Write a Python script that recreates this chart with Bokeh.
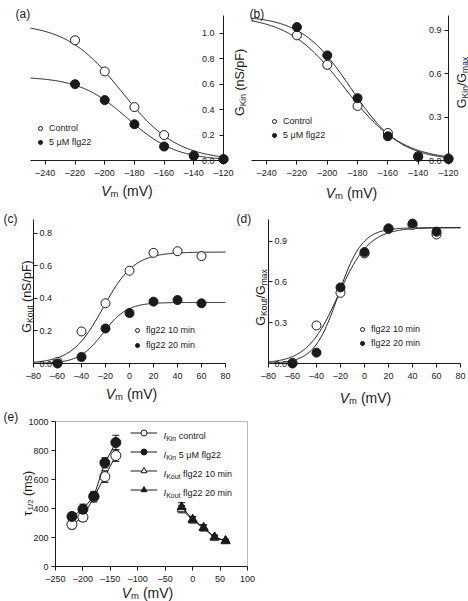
import numpy as np
from bokeh.plotting import figure
from bokeh.models import (Label, Legend, LegendItem, Range1d, ColumnDataSource, Whisker, TeeHead,
                          FixedTicker, CustomJSTickFormatter, NumeralTickFormatter, LinearAxis,
                          BoxAnnotation)
from bokeh.layouts import row, column
from bokeh.embed import file_html
from bokeh.resources import INLINE

FONT = "Liberation Sans"
INK = "#1a1a1a"

# ---------------- data ----------------
# (a)/(b) inward K+ conductance
v_kin = [-220, -200, -180, -160, -140, -120]
gkin_control = [0.945, 0.70, 0.42, 0.20, 0.04, 0.01]
gkin_flg22 = [0.60, 0.475, 0.285, 0.11, 0.035, 0.01]
gkin_norm_control = [0.863, 0.66, 0.376, 0.19, 0.03, 0.015]
gkin_norm_flg22 = [0.92, 0.725, 0.43, 0.167, 0.025, 0.01]
# Boltzmann fit parameters [Gmax, V1/2, slope]
fit_kin_control = [1.08, -188.5, 18.8]
fit_kin_flg22 = [0.66, -184.5, 16.4]

# (c)/(d) outward K+ conductance
v_kout = [-60, -40, -20, 0, 20, 40, 60]
gkout_10 = [0.01, 0.197, 0.37, 0.57, 0.68, 0.69, 0.66]
gkout_20 = [0.0, 0.04, 0.215, 0.31, 0.38, 0.39, 0.37]
gkout_norm_10 = [0.005, 0.28, 0.52, 0.81, 0.99, 1.02, 0.95]
gkout_norm_20 = [0.0, 0.08, 0.56, 0.82, 0.995, 1.03, 0.97]
fit_kout_10 = [0.685, -22.0, 13.0]
fit_kout_20 = [0.375, -22.0, 10.0]

# (e) half-activation times
v_tau_in = [-220, -200, -180, -160, -140]
tau_in_control = [290, 340, 480, 620, 765]
tau_in_control_err = [30, 30, 35, 40, 40]
tau_in_flg22 = [345, 395, 485, 715, 855]
tau_in_flg22_err = [25, 35, 30, 35, 50]
v_tau_out = [-20, 0, 20, 40, 60]
tau_out_10 = [395, 320, 265, 200, 175]
tau_out_10_err = [25, 20, 20, 15, 10]
tau_out_20 = [410, 325, 268, 202, 178]
tau_out_20_err = [30, 20, 20, 15, 10]

ticks_kin_x = [-240, -220, -200, -180, -160, -140, -120]
ticks_kout_x = [-80, -60, -40, -20, 0, 20, 40, 60, 80]
ticks_e_x = [-250, -200, -150, -100, -50, 0, 50, 100]
ticks_e_y = [0, 200, 400, 600, 800, 1000]

# ---------------- helpers ----------------
W = {' ': .278, '(': .333, ')': .333, '/': .278, '.': .278, '-': .333,
     'A': .667, 'C': .722, 'G': .778, 'I': .278, 'K': .667, 'M': .833, 'S': .667,
     'F': .611, 'V': .667, 'a': .556, 'c': .5, 'e': .556, 'f': .278, 'g': .556,
     'i': .222, 'l': .222, 'm': .833, 'n': .556, 'o': .556, 'p': .556, 'r': .333,
     's': .5, 't': .278, 'u': .556, 'x': .5, 'μ': .576, 'τ': .45}

XL, XS = 14, 9.5      # horizontal axis-title size / subscript size
YL, YS = 12.5, 8.5    # vertical axis-title size / subscript size


def tw(s, size):
    return sum(W.get(c, .556) for c in s) * size


class Panel:
    """A figure whose frame covers the whole canvas; the data area sits inside it."""

    def __init__(self, cw, ch, left, top, dw, dh, xr, yr):
        sx = dw / (xr[1] - xr[0])
        sy = dh / (yr[1] - yr[0])
        x0 = xr[0] - left / sx
        x1 = xr[1] + (cw - left - dw) / sx
        y0 = yr[0] - (ch - top - dh) / sy
        y1 = yr[1] + top / sy
        p = figure(width=cw, height=ch, x_range=Range1d(x0, x1), y_range=Range1d(y0, y1),
                   min_border=0, x_axis_location=None, y_axis_location=None,
                   output_backend="svg", toolbar_location=None)
        p.xgrid.visible = False
        p.ygrid.visible = False
        p.outline_line_color = None
        self.p = p
        self.ox = left
        self.oy = ch - top - dh
        self.dw, self.dh = dw, dh
        self.xr, self.yr = xr, yr

    def axis(self, side, ticks, fmt, fixed, tick_out=4, standoff=3):
        bounds = self.xr if side in ("below", "above") else self.yr
        ax = LinearAxis(fixed_location=fixed, bounds=bounds, ticker=FixedTicker(ticks=ticks),
                        formatter=fmt, axis_line_color=INK, major_tick_line_color=INK,
                        minor_tick_line_color=None, major_tick_in=0, major_tick_out=tick_out,
                        major_label_standoff=standoff, major_label_text_font=FONT,
                        major_label_text_font_size="9px", major_label_text_color=INK)
        self.p.add_layout(ax, side)
        return ax

    def rich(self, pieces, x, y, angle=0.0, align="center"):
        total = sum(tw(t, s) for t, s, st, sh in pieces)
        adv = -total / 2 if align == "center" else 0.0
        for t, s, st, sh in pieces:
            body = t.lstrip(" ")
            adv += tw(t[:len(t) - len(body)], s)
            if angle == 0:
                xo, yo = x + adv, y - sh
            else:
                xo, yo = x + sh, y + adv
            self.p.add_layout(Label(x=self.ox + xo, y=self.oy + yo, x_units="screen",
                                    y_units="screen", text=body, angle=angle, text_font=FONT,
                                    text_font_size=f"{s}px", text_font_style=st,
                                    text_align="left", text_baseline="alphabetic",
                                    text_color=INK))
            adv += tw(body, s)

    def pts(self, x, y, filled, marker="circle", size=9):
        return self.p.scatter(x, y, marker=marker, size=size, line_color=INK, line_width=1,
                              fill_color=INK if filled else "white")

    def curve(self, fn, prm):
        v = np.linspace(self.xr[0], self.xr[1], 240)
        self.p.line(v, fn(v, prm), line_color=INK, line_width=1)

    def marker_legend(self, items, loc, spacing):
        lg = Legend(items=[LegendItem(label=l, renderers=[r]) for l, r in items],
                    location=(self.ox + loc[0], self.oy + loc[1]), padding=0, margin=0,
                    spacing=spacing, glyph_width=10, glyph_height=12, label_height=12,
                    label_standoff=4, label_text_font=FONT, label_text_font_size="9px",
                    label_text_color=INK, border_line_color=None, background_fill_alpha=0)
        self.p.add_layout(lg)

    def vm_label(self, x_shift, y):
        self.rich([("V", XL, "italic", 0), ("m", XS, "normal", 3), (" (mV)", XL, "normal", 0)],
                  self.dw / 2 + x_shift, y)


dash_fmt = CustomJSTickFormatter(code="return (tick < 0 ? '\\u2013' : '') + Math.abs(tick);")
one_dec = NumeralTickFormatter(format="0.0")
plain = NumeralTickFormatter(format="0")


def boltz_down(v, prm):
    v = np.asarray(v, dtype=float)
    return prm[0] / (1.0 + np.exp((v - prm[1]) / prm[2]))


def boltz_up(v, prm):
    v = np.asarray(v, dtype=float)
    return prm[0] / (1.0 + np.exp(-(v - prm[1]) / prm[2]))


# ---------------- panel (a) ----------------
A = Panel(248, 205, 30, 15, 193, 145, (-250, -120), (0, 1.14))
A.axis("below", ticks_kin_x, dash_fmt, 0)
A.axis("left", [0.0, 0.2, 0.4, 0.6, 0.8, 1.0], one_dec, -120, tick_out=4, standoff=5)
A.curve(boltz_down, fit_kin_control)
A.curve(boltz_down, fit_kin_flg22)
ra_o = A.pts(v_kin, gkin_control, False)
ra_f = A.pts(v_kin, gkin_flg22, True)
A.marker_legend([("Control", ra_o), ("5 μM flg22", ra_f)], (5, 12), 2)
A.rich([("(a)", 12, "normal", 0)], -15, 147, align="left")
A.vm_label(0, -30)
A.rich([("G", YL, "normal", 0), ("Kin", YS, "normal", 3), (" (nS/pF)", YL, "normal", 0)],
       209, 78, angle=np.pi / 2)

# ---------------- panel (b) ----------------
B = Panel(220, 205, 3, 15, 197, 145, (-250, -120), (0, 1.0))
B.axis("below", ticks_kin_x, dash_fmt, 0)
B.axis("left", [0.0, 0.3, 0.6, 0.9], one_dec, -120, tick_out=4, standoff=3)
B.curve(boltz_down, [1.0, fit_kin_control[1], fit_kin_control[2]])
B.curve(boltz_down, [1.0, fit_kin_flg22[1], fit_kin_flg22[2]])
rb_o = B.pts(v_kin, gkin_norm_control, False)
rb_f = B.pts(v_kin, gkin_norm_flg22, True)
B.marker_legend([("Control", rb_o), ("5 μM flg22", rb_f)], (18, 19), 2)
B.rich([("(b)", 12, "normal", 0)], -2, 147, align="left")
B.vm_label(1.5, -32)
B.rich([("G", YL, "normal", 0), ("Kin", YS, "normal", 3), ("/G", YL, "normal", 0),
        ("max", YS, "normal", 3)], 210, 78, angle=np.pi / 2)

# ---------------- panel (c) ----------------
C = Panel(234, 205, 33, 14, 192, 144, (-80, 80), (0, 0.885))
C.axis("below", ticks_kout_x, dash_fmt, 0)
C.axis("right", [0.0, 0.2, 0.4, 0.6, 0.8], one_dec, -80, tick_out=4, standoff=2)
C.curve(boltz_up, fit_kout_10)
C.curve(boltz_up, fit_kout_20)
rc_o = C.pts(v_kout, gkout_10, False)
rc_f = C.pts(v_kout, gkout_20, True)
C.marker_legend([("flg22 10 min", rc_o), ("flg22 20 min", rc_f)], (99, 12), 3)
C.rich([("(c)", 12, "normal", 0)], -30, 145, align="left")
C.vm_label(2, -30)
C.rich([("G", YL, "normal", 0), ("Kout", YS, "normal", 3), (" (nS/pF)", YL, "normal", 0)],
       -7, 67, angle=np.pi / 2)

# ---------------- panel (d) ----------------
D = Panel(234, 205, 34, 14, 192, 144, (-80, 80), (0, 1.06))
D.axis("below", ticks_kout_x, dash_fmt, 0)
D.axis("right", [0.0, 0.3, 0.6, 0.9], one_dec, -80, tick_out=4, standoff=2)
D.curve(boltz_up, [1.0, fit_kout_10[1], fit_kout_10[2]])
D.curve(boltz_up, [1.0, fit_kout_20[1], fit_kout_20[2]])
rd_o = D.pts(v_kout, gkout_norm_10, False)
rd_f = D.pts(v_kout, gkout_norm_20, True)
D.marker_legend([("flg22 10 min", rd_o), ("flg22 20 min", rd_f)], (89, 14), 2)
D.rich([("(d)", 12, "normal", 0)], -32, 145, align="left")
D.vm_label(1, -34)
D.rich([("G", YL, "normal", 0), ("Kout", YS, "normal", 3), ("/G", YL, "normal", 0),
        ("max", YS, "normal", 3)], -8, 66, angle=np.pi / 2)

# ---------------- panel (e) ----------------
E = Panel(260, 191, 55, 11, 192, 145, (-250, 100), (0, 1000))
E.axis("below", ticks_e_x, dash_fmt, 0)
E.axis("left", ticks_e_y, plain, -250)
E.p.add_layout(BoxAnnotation(left=E.xr[0], right=E.xr[1], bottom=E.yr[0], top=E.yr[1],
                             fill_alpha=0, line_color=INK, line_width=1))

series = [
    (v_tau_in, tau_in_control, tau_in_control_err, "circle", False),
    (v_tau_in, tau_in_flg22, tau_in_flg22_err, "circle", True),
    (v_tau_out, tau_out_10, tau_out_10_err, "triangle", False),
    (v_tau_out, tau_out_20, tau_out_20_err, "triangle", True),
]
legend_items = []
for vx, ty, te, mk, filled in series:
    src = ColumnDataSource(dict(v=vx, t=ty,
                                up=[a + b for a, b in zip(ty, te)],
                                lo=[a - b for a, b in zip(ty, te)]))
    E.p.add_layout(Whisker(source=src, base="v", upper="up", lower="lo", dimension="height",
                           line_color=INK, line_width=1,
                           upper_head=TeeHead(size=7, line_color=INK, line_width=1),
                           lower_head=TeeHead(size=7, line_color=INK, line_width=1)))
    rl = E.p.line("v", "t", source=src, line_color=INK, line_width=1)
    rs = E.p.scatter("v", "t", source=src, marker=mk, size=10 if mk == "circle" else 9,
                     line_color=INK, line_width=1, fill_color=INK if filled else "white")
    legend_items.append(LegendItem(label=" ", renderers=[rl, rs]))

ROW = 15
GAP = 4
leg_h = 4 * ROW + 3 * GAP
E.p.add_layout(Legend(items=legend_items, location=(E.ox + 75, E.oy + 141.5 - leg_h),
                      padding=0, margin=0, spacing=GAP, glyph_width=27, glyph_height=ROW,
                      label_height=ROW, label_standoff=0, label_text_font_size="9px",
                      border_line_color=None, background_fill_alpha=0))
leg_text = [
    [("I", 9.5, "italic", 0), ("Kin", 7, "normal", 2.5), (" control", 9, "normal", 0)],
    [("I", 9.5, "italic", 0), ("Kin", 7, "normal", 2.5), (" 5  μM flg22", 9, "normal", 0)],
    [("I", 9.5, "italic", 0), ("Kout", 7, "normal", 2.5), (" flg22 10 min", 9, "normal", 0)],
    [("I", 9.5, "italic", 0), ("Kout", 7, "normal", 2.5), (" flg22 20 min", 9, "normal", 0)],
]
for i, pcs in enumerate(leg_text):
    cy = 141.5 - ROW / 2 - i * (ROW + GAP)
    E.rich(pcs, 108, cy - 3, align="left")

E.rich([("(e)", 12, "normal", 0)], -52, 150, align="left")
E.vm_label(-4, -26)
E.rich([("τ", YL, "normal", 0), ("1/2", 8, "normal", 3), (" (ms)", YL, "normal", 0)],
       -28, 73, angle=np.pi / 2)

layout = column(row(A.p, B.p), row(C.p, D.p), E.p)
open("out.html", "w").write(file_html(layout, INLINE))
